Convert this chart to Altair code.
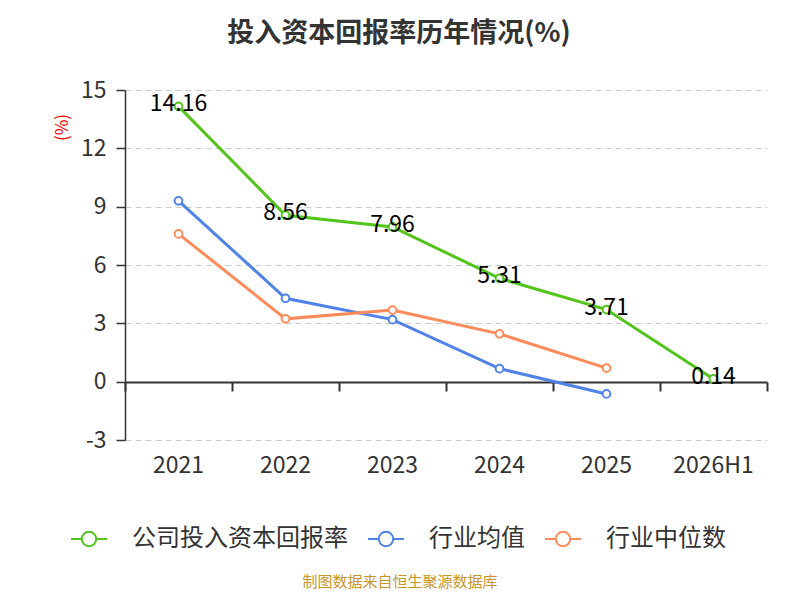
import altair as alt
import pandas as pd

categories = ["2021", "2022", "2023", "2024", "2025", "2026H1"]
company = [14.16, 8.56, 7.96, 5.31, 3.71, 0.14]
industry_mean = [9.30, 4.29, 3.19, 0.67, -0.63]
industry_median = [7.60, 3.23, 3.68, 2.46, 0.70]

series_names = ["公司投入资本回报率", "行业均值", "行业中位数"]
colors = ["#52c41a", "#5083e8", "#ff8b5b"]

rows = []
for s, vals in zip(series_names, [company, industry_mean, industry_median]):
    for c, v in zip(categories, vals):
        rows.append({"cat": c, "value": v, "series": s})
df = pd.DataFrame(rows)
df_company = df[df["series"] == series_names[0]].copy()
df_company["label"] = [f"{v:.2f}" for v in company]

FONT = "Noto Sans CJK SC"

xscale = alt.Scale(domain=categories, paddingInner=0, paddingOuter=0)
yscale = alt.Scale(domain=[-3, 15], nice=False, zero=False)
color = alt.Color(
    "series:N",
    scale=alt.Scale(domain=series_names, range=colors),
    legend=alt.Legend(
        title=None,
        orient="none",
        legendX=-55,
        legendY=430,
        direction="horizontal",
        symbolType="M-1,0L-0.4,0M0.4,0L1,0M0.4,0A0.4,0.4,0,1,1,-0.4,0A0.4,0.4,0,1,1,0.4,0",
        symbolSize=1296,
        symbolStrokeWidth=2,
        symbolFillColor="white",
        labelFontSize=24,
        labelFont=FONT,
        labelColor="#333333",
        labelOffset=24,
        columnPadding=16,
        labelLimit=400,
    ),
)

x_main = alt.X(
    "cat:N",
    scale=xscale,
    sort=categories,
    axis=alt.Axis(
        title=None, domain=False, ticks=False, labelAngle=0,
        labelFontSize=23, labelFont=FONT, labelColor="#333333",
        labelPadding=14, grid=False, orient="bottom",
    ),
)

y_enc = alt.Y(
    "value:Q",
    scale=yscale,
    axis=alt.Axis(
        values=[-3, 0, 3, 6, 9, 12, 15],
        labelExpr="replace(datum.label, '−', '-')",
        title="(%)",
        titleColor="red",
        titleFontSize=17,
        titleFontWeight="normal",
        titleFont=FONT,
        titleAngle=-90,
        titleX=-63,
        titleY=37,
        titleAlign="center",
        titleBaseline="middle",
        labelFontSize=23,
        labelFont=FONT,
        labelColor="#333333",
        labelPadding=10,
        domainColor="#333333",
        domainWidth=1.5,
        tickColor="#333333",
        tickSize=9,
        tickWidth=1.5,
        grid=True,
        gridColor="#cccccc",
        gridDash=[6, 4],
        gridWidth=1,
    ),
)

lines = alt.Chart(df).mark_line(strokeWidth=3).encode(
    x=x_main, y=y_enc, color=color,
    detail="series:N",
)

points = alt.Chart(df).mark_point(filled=False, fill="white", fillOpacity=1, size=60, strokeWidth=2, opacity=1).encode(
    x=alt.X("cat:N", scale=xscale, sort=categories, axis=None),
    y=alt.Y("value:Q", scale=yscale),
    color=alt.Color("series:N", scale=alt.Scale(domain=series_names, range=colors), legend=None),
)

labels = alt.Chart(df_company).mark_text(fontSize=23, font=FONT, color="#000000", baseline="middle", dy=-2).encode(
    x=alt.X(
        "cat:N", scale=xscale, sort=categories,
        axis=alt.Axis(
            title=None, labels=False, orient="bottom", offset=-58,
            domainColor="#333333", domainWidth=2, tickColor="#333333",
            tickWidth=2, tickSize=9, tickBand="extent", grid=False,
        ),
    ),
    y=alt.Y("value:Q", scale=yscale),
    text="label:N",
)

source = alt.Chart(pd.DataFrame({"t": ["制图数据来自恒生聚源数据库"]})).mark_text(
    fontSize=15, font=FONT, color="#c8962a", align="center", baseline="middle"
).encode(x=alt.value(275), y=alt.value(492), text="t:N")

chart = (
    alt.layer(lines, points, labels, source)
    .resolve_axis(x="independent")
    .properties(
        width=642,
        height=350,
        autosize=alt.AutoSizeParams(type="none"),
        padding={"left": 117, "top": 82, "right": 25, "bottom": 152},
        title=alt.TitleParams(
            text="投入资本回报率历年情况(%)",
            fontSize=27,
            fontWeight="bold",
            font=FONT,
            color="#333333",
            anchor="middle",
            dx=-47,
            offset=31,
        ),
    )
    .configure_view(stroke=None)
)

chart.save("out.html", embed_options={"renderer": "svg", "actions": False})
